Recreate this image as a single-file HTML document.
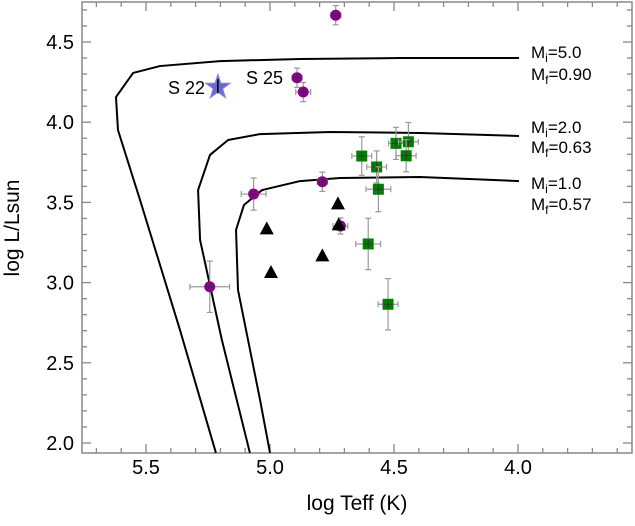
<!DOCTYPE html>
<html><head><meta charset="utf-8"><style>
body{margin:0;background:#fff}
svg text{font-family:"Liberation Sans",sans-serif;fill:#000}
</style></head><body>
<svg id="c" width="635" height="521" xmlns="http://www.w3.org/2000/svg"></svg>
<script>
const xTicks=[5.5,5.0,4.5,4.0];
const yTicks=[2.0,2.5,3.0,3.5,4.0,4.5];
const circleT=[4.735,4.891,4.866,4.789,5.066,5.243,4.716];
const circleL=[4.667,4.277,4.188,3.629,3.552,2.974,3.353];
const circleEL=[0.06,0.06,0.06,0.06,0.1,0.16,0.05];
const circleET=[0.02,0.02,0.03,0.02,0.05,0.08,0.03];
const squareT=[4.630,4.570,4.563,4.492,4.442,4.451,4.604,4.524];
const squareL=[3.789,3.721,3.582,3.868,3.878,3.791,3.241,2.865];
const squareEL=[0.12,0.1,0.14,0.1,0.12,0.1,0.16,0.16];
const squareET=[0.04,0.04,0.05,0.03,0.04,0.04,0.05,0.04];
const triT=[4.726,4.723,5.013,4.789,4.996];
const triL=[3.494,3.363,3.338,3.170,3.066];
const starT=[5.21];const starL=[4.218];
const track5T=[5.218,5.363,5.524,5.613,5.621,5.552,5.444,5.202,4.879,4.476,3.996];
const track5L=[1.938,2.705,3.515,3.951,4.157,4.307,4.350,4.381,4.394,4.400,4.400];
const track2T=[5.081,5.194,5.282,5.290,5.242,5.169,5.040,4.758,4.395,3.996];
const track2L=[1.938,2.642,3.266,3.577,3.796,3.889,3.926,3.939,3.933,3.914];
const track1T=[5.0,5.040,5.129,5.137,5.105,5.032,4.879,4.718,4.395,3.996];
const track1L=[1.938,2.268,2.954,3.328,3.484,3.577,3.633,3.652,3.658,3.633];

const NS='http://www.w3.org/2000/svg',svg=document.getElementById('c');
const X=v=>270+(5.0-v)*248, Y=v=>443-(v-2)*160.4;
const L=82,R=632,T=2,B=453;
function mk(t,a,p){const e=document.createElementNS(NS,t);for(const k in a)e.setAttribute(k,a[k]);(p||svg).appendChild(e);return e;}
let g=mk('g',{});


mk('rect',{x:L,y:T,width:R-L,height:B-T,fill:'none',stroke:'#888','stroke-width':1.5},g);
for(let i=-7;i<=15;i++){const v=5.0-i*0.1;const x=X(v);if(x<L+1||x>R-1)continue;const l=(i%5===0)?9:5;
 mk('line',{x1:x,x2:x,y1:B,y2:B-l,stroke:'#888','stroke-width':1.3},g);mk('line',{x1:x,x2:x,y1:T,y2:T+l,stroke:'#888','stroke-width':1.3},g);}
for(let i=-1;i<=28;i++){const v=2.0+i*0.1;const y=Y(v);if(y<T+1||y>B-1)continue;const l=(i%5===0)?9:5;
 mk('line',{x1:L,x2:L+l,y1:y,y2:y,stroke:'#888','stroke-width':1.3},g);mk('line',{x1:R,x2:R-l,y1:y,y2:y,stroke:'#888','stroke-width':1.3},g);}
xTicks.forEach(v=>{const t=mk('text',{x:X(v),y:474,'font-size':20,'text-anchor':'middle'});t.textContent=v.toFixed(1);

});
yTicks.forEach(v=>{const t=mk('text',{x:74,y:Y(v)+7,'font-size':20,'text-anchor':'end'});t.textContent=v.toFixed(1);

});
let xt=mk('text',{x:357,y:510,'font-size':21,'text-anchor':'middle'});xt.textContent='log Teff (K)';


let yt=mk('text',{x:19,y:228,'font-size':21,'text-anchor':'middle',transform:'rotate(-90 19 228)'});yt.textContent='log L/Lsun';


[[track5T,track5L,'track-5'],[track2T,track2L,'track-2'],[track1T,track1L,'track-1']].forEach(([a,b,n])=>{
 const p=mk('polyline',{points:a.map((v,i)=>X(v)+','+Y(b[i])).join(' '),fill:'none',stroke:'#000','stroke-width':2,'stroke-linejoin':'round'});
 
 });
function lab(x,y,s,v){const t=mk('text',{x:x,y:y,'font-size':17});t.innerHTML='M<tspan font-size="12" dy="4">'+s+'</tspan><tspan dy="-4">='+v+'</tspan>';

}
lab(531,58,'i','5.0');lab(531,80,'f','0.90');
lab(531,133,'i','2.0');lab(531,153,'f','0.63');
lab(531,189,'i','1.0');lab(531,210,'f','0.57');
function err(x,y,ex,ey){mk('line',{x1:x-ex,x2:x+ex,y1:y,y2:y,stroke:'#999','stroke-width':1.2});mk('line',{x1:x,x2:x,y1:y-ey,y2:y+ey,stroke:'#999','stroke-width':1.2});
 [[x-ex,y-3,x-ex,y+3],[x+ex,y-3,x+ex,y+3],[x-3,y-ey,x+3,y-ey],[x-3,y+ey,x+3,y+ey]].forEach(q=>mk('line',{x1:q[0],y1:q[1],x2:q[2],y2:q[3],stroke:'#999','stroke-width':1.2}));}
squareT.forEach((v,i)=>{const x=X(v),y=Y(squareL[i]);err(x,y,squareET[i]*248,squareEL[i]*160.4);
 const r=mk('rect',{x:x-5.5,y:y-5.5,width:11,height:11,fill:'#008000'});
 
 
 mk('line',{x1:x-4,x2:x+4,y1:y,y2:y,stroke:'#333','stroke-width':1});mk('line',{x1:x,x2:x,y1:y-4,y2:y+4,stroke:'#333','stroke-width':1});});
circleT.forEach((v,i)=>{const x=X(v),y=Y(circleL[i]);err(x,y,circleET[i]*248,circleEL[i]*160.4);
 const c=mk('circle',{cx:x,cy:y,r:5.5,fill:'#8b008b'});
 
 
 mk('line',{x1:x-4,x2:x+4,y1:y,y2:y,stroke:'#333','stroke-width':1});mk('line',{x1:x,x2:x,y1:y-4,y2:y+4,stroke:'#333','stroke-width':1});});
triT.forEach((v,i)=>{const x=X(v),y=Y(triL[i]);
 const p=mk('polygon',{points:`${x},${y-7} ${x-7},${y+6} ${x+7},${y+6}`,fill:'#000'});
 
 });
starT.forEach((v,i)=>{const x=X(v),y=Y(starL[i]);let pts=[];for(let k=0;k<10;k++){const r=k%2?5:13,a=-Math.PI/2+k*Math.PI/5;pts.push((x+r*Math.cos(a))+','+(y+r*Math.sin(a)));}
 const s=mk('polygon',{points:pts.join(' '),fill:'#6a6acd',stroke:'#8888dd','stroke-width':1});
 
 
 mk('line',{x1:x,x2:x,y1:y-8,y2:y+6,stroke:'#000','stroke-width':1.5});});
let s22=mk('text',{x:168,y:94,'font-size':18});s22.textContent='S 22';


let s25=mk('text',{x:246,y:84,'font-size':18});s25.textContent='S 25';


</script>
</body></html>
